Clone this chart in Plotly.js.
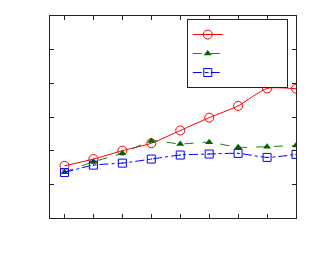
<!DOCTYPE html>
<html>
<head>
<meta charset="utf-8">
<script src="https://cdn.plot.ly/plotly-3.0.1.min.js"></script>
<style>html,body{margin:0;padding:0;background:#fff;}#chart{width:313px;height:263px;}</style>
</head>
<body>
<div id="chart"></div>
<script>
var xValues = [1, 2, 3, 4, 5, 6, 7, 8, 9];
var redValues = [1.55, 1.75, 2.0, 2.22, 2.6, 2.98, 3.33, 3.85, 3.84];
var greenValues = [1.36, 1.67, 1.92, 2.29, 2.2, 2.25, 2.1, 2.12, 2.15];
var blueValues = [1.35, 1.57, 1.63, 1.75, 1.87, 1.90, 1.92, 1.80, 1.89];
var legendLabel = '\u00a0'.repeat(24);

var traces = [
  {x: xValues, y: redValues, name: legendLabel, mode: 'lines+markers',
   line: {color: '#ff0000', width: 1, shape: 'spline', smoothing: 0.6},
   marker: {symbol: 'circle-open', size: 9, color: '#ff0000', line: {width: 1}}},
  {x: xValues, y: greenValues, name: legendLabel, mode: 'lines+markers',
   line: {color: '#1a7a1a', width: 1, dash: 'dash', shape: 'spline', smoothing: 0.6},
   marker: {symbol: 'triangle-up', size: 7, color: '#006400'}},
  {x: xValues, y: blueValues, name: legendLabel, mode: 'lines+markers',
   line: {color: '#0000ff', width: 1, dash: 'dashdot', shape: 'spline', smoothing: 0.6},
   marker: {symbol: 'square-open-dot', size: 8, color: '#0000ff', line: {width: 1}}}
];

var axisCommon = {showline: true, linecolor: '#222', linewidth: 1, mirror: 'ticks',
  ticks: 'inside', ticklen: 4, tickcolor: '#222', showgrid: false, zeroline: false,
  showticklabels: false};

var layout = {
  width: 313, height: 263,
  margin: {l: 50, r: 17, t: 16, b: 45},
  paper_bgcolor: '#fff', plot_bgcolor: '#fff',
  xaxis: Object.assign({range: [0.5, 9], dtick: 1, tick0: 1}, axisCommon),
  yaxis: Object.assign({range: [0, 6], dtick: 1, tick0: 0}, axisCommon),
  showlegend: true,
  legend: {x: 0.556, y: 0.985, xanchor: 'left', yanchor: 'top',
    bordercolor: '#222', borderwidth: 1, bgcolor: '#fff',
    font: {size: 7, family: 'DejaVu Sans'}, itemwidth: 30}
};

Plotly.newPlot('chart', traces, layout, {displayModeBar: false, staticPlot: true});
</script>
</body>
</html>
